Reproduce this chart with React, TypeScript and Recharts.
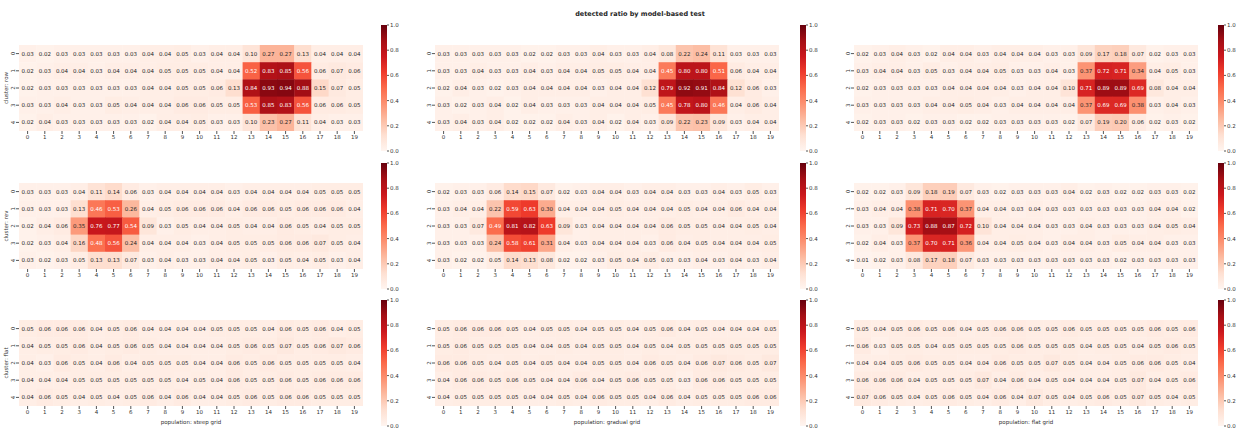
import React from 'react';
import {
  ScatterChart,
  Scatter,
  XAxis,
  YAxis,
  BarChart,
  Bar,
} from 'recharts';

// population (x) index and cluster (y) index
const COLS = Array.from({ length: 20 }, (_, i) => i);
const ROWS = [0, 1, 2, 3, 4];
const CB_TICKS = [0, 0.2, 0.4, 0.6, 0.8, 1.0];

const CLUSTER_LABELS = ['cluster: row', 'cluster: rev', 'cluster: flat'];
const POPULATION_LABELS = ['population: steep grid', 'population: gradual grid', 'population: flat grid'];

// cluster: row
const rowSteep = [
  [0.03, 0.02, 0.03, 0.03, 0.03, 0.03, 0.03, 0.04, 0.04, 0.05, 0.03, 0.04, 0.04, 0.10, 0.27, 0.27, 0.13, 0.04, 0.04, 0.04],
  [0.02, 0.03, 0.04, 0.04, 0.03, 0.04, 0.04, 0.04, 0.05, 0.05, 0.05, 0.04, 0.04, 0.52, 0.83, 0.85, 0.56, 0.06, 0.07, 0.06],
  [0.02, 0.03, 0.03, 0.03, 0.03, 0.03, 0.03, 0.04, 0.04, 0.05, 0.05, 0.06, 0.13, 0.84, 0.93, 0.94, 0.88, 0.15, 0.07, 0.05],
  [0.03, 0.03, 0.04, 0.03, 0.03, 0.05, 0.04, 0.04, 0.04, 0.06, 0.06, 0.05, 0.05, 0.53, 0.85, 0.83, 0.56, 0.06, 0.06, 0.05],
  [0.02, 0.04, 0.03, 0.03, 0.03, 0.03, 0.03, 0.02, 0.04, 0.04, 0.05, 0.03, 0.03, 0.10, 0.23, 0.27, 0.11, 0.04, 0.03, 0.03],
];
const rowGradual = [
  [0.03, 0.03, 0.03, 0.03, 0.03, 0.02, 0.02, 0.03, 0.03, 0.04, 0.03, 0.03, 0.04, 0.08, 0.22, 0.24, 0.11, 0.03, 0.03, 0.03],
  [0.03, 0.03, 0.04, 0.03, 0.03, 0.04, 0.03, 0.04, 0.04, 0.05, 0.05, 0.04, 0.04, 0.45, 0.80, 0.80, 0.51, 0.06, 0.04, 0.04],
  [0.02, 0.04, 0.03, 0.02, 0.03, 0.04, 0.04, 0.04, 0.04, 0.03, 0.04, 0.04, 0.12, 0.79, 0.92, 0.91, 0.84, 0.12, 0.06, 0.03],
  [0.03, 0.02, 0.03, 0.04, 0.02, 0.04, 0.03, 0.03, 0.03, 0.04, 0.04, 0.04, 0.05, 0.45, 0.78, 0.80, 0.46, 0.04, 0.06, 0.04],
  [0.03, 0.04, 0.03, 0.04, 0.02, 0.02, 0.02, 0.04, 0.03, 0.04, 0.02, 0.04, 0.03, 0.09, 0.22, 0.23, 0.09, 0.03, 0.04, 0.04],
];
const rowFlat = [
  [0.02, 0.03, 0.04, 0.03, 0.02, 0.04, 0.04, 0.03, 0.04, 0.04, 0.04, 0.03, 0.03, 0.09, 0.17, 0.18, 0.07, 0.02, 0.03, 0.03],
  [0.03, 0.04, 0.04, 0.03, 0.05, 0.03, 0.04, 0.04, 0.05, 0.03, 0.03, 0.04, 0.03, 0.37, 0.72, 0.71, 0.34, 0.04, 0.05, 0.03],
  [0.02, 0.03, 0.03, 0.03, 0.03, 0.04, 0.04, 0.04, 0.04, 0.03, 0.04, 0.04, 0.10, 0.71, 0.89, 0.89, 0.69, 0.08, 0.04, 0.04],
  [0.03, 0.03, 0.03, 0.03, 0.04, 0.04, 0.05, 0.04, 0.03, 0.04, 0.04, 0.04, 0.04, 0.37, 0.69, 0.69, 0.38, 0.03, 0.04, 0.03],
  [0.02, 0.03, 0.03, 0.02, 0.03, 0.03, 0.02, 0.02, 0.03, 0.03, 0.03, 0.03, 0.02, 0.07, 0.19, 0.20, 0.06, 0.02, 0.03, 0.02],
];

// cluster: rev
const revSteep = [
  [0.03, 0.03, 0.03, 0.04, 0.11, 0.14, 0.06, 0.03, 0.04, 0.04, 0.04, 0.04, 0.03, 0.04, 0.04, 0.04, 0.04, 0.05, 0.05, 0.05],
  [0.03, 0.03, 0.03, 0.13, 0.46, 0.53, 0.26, 0.04, 0.05, 0.06, 0.06, 0.06, 0.04, 0.06, 0.06, 0.05, 0.06, 0.06, 0.06, 0.04],
  [0.02, 0.04, 0.06, 0.35, 0.76, 0.77, 0.54, 0.09, 0.03, 0.05, 0.04, 0.04, 0.05, 0.04, 0.04, 0.06, 0.05, 0.04, 0.05, 0.05],
  [0.02, 0.03, 0.04, 0.16, 0.48, 0.56, 0.24, 0.04, 0.04, 0.04, 0.03, 0.04, 0.05, 0.05, 0.05, 0.06, 0.06, 0.07, 0.05, 0.04],
  [0.03, 0.02, 0.03, 0.05, 0.13, 0.13, 0.07, 0.03, 0.04, 0.03, 0.03, 0.04, 0.04, 0.05, 0.03, 0.05, 0.04, 0.05, 0.03, 0.04],
];
const revGradual = [
  [0.02, 0.03, 0.03, 0.06, 0.14, 0.15, 0.07, 0.02, 0.03, 0.04, 0.04, 0.03, 0.04, 0.04, 0.03, 0.03, 0.04, 0.03, 0.05, 0.03],
  [0.03, 0.04, 0.04, 0.22, 0.59, 0.63, 0.30, 0.04, 0.04, 0.04, 0.05, 0.04, 0.04, 0.04, 0.05, 0.04, 0.04, 0.06, 0.04, 0.04],
  [0.03, 0.03, 0.07, 0.49, 0.81, 0.82, 0.63, 0.09, 0.03, 0.04, 0.04, 0.04, 0.04, 0.06, 0.05, 0.05, 0.04, 0.04, 0.05, 0.04],
  [0.03, 0.03, 0.03, 0.24, 0.58, 0.61, 0.31, 0.04, 0.03, 0.04, 0.04, 0.04, 0.03, 0.06, 0.04, 0.05, 0.04, 0.04, 0.04, 0.05],
  [0.03, 0.02, 0.02, 0.05, 0.14, 0.13, 0.08, 0.02, 0.02, 0.03, 0.05, 0.04, 0.05, 0.03, 0.03, 0.04, 0.03, 0.04, 0.03, 0.04],
];
const revFlat = [
  [0.02, 0.02, 0.03, 0.09, 0.18, 0.19, 0.07, 0.03, 0.02, 0.03, 0.03, 0.03, 0.04, 0.02, 0.03, 0.02, 0.02, 0.03, 0.03, 0.02],
  [0.03, 0.04, 0.04, 0.38, 0.71, 0.70, 0.37, 0.04, 0.04, 0.03, 0.04, 0.03, 0.03, 0.03, 0.03, 0.03, 0.03, 0.04, 0.04, 0.02],
  [0.03, 0.03, 0.09, 0.73, 0.88, 0.87, 0.72, 0.10, 0.04, 0.04, 0.04, 0.03, 0.03, 0.04, 0.03, 0.03, 0.03, 0.04, 0.05, 0.04],
  [0.02, 0.04, 0.03, 0.37, 0.70, 0.71, 0.36, 0.04, 0.04, 0.05, 0.04, 0.03, 0.04, 0.04, 0.03, 0.05, 0.04, 0.04, 0.03, 0.03],
  [0.01, 0.02, 0.03, 0.08, 0.17, 0.18, 0.07, 0.03, 0.03, 0.03, 0.03, 0.03, 0.03, 0.03, 0.03, 0.02, 0.03, 0.03, 0.03, 0.03],
];

// cluster: flat
const flatSteep = [
  [0.05, 0.06, 0.06, 0.06, 0.04, 0.05, 0.06, 0.04, 0.04, 0.04, 0.04, 0.05, 0.05, 0.05, 0.04, 0.06, 0.05, 0.06, 0.04, 0.05],
  [0.04, 0.05, 0.05, 0.06, 0.04, 0.05, 0.06, 0.05, 0.04, 0.04, 0.04, 0.04, 0.05, 0.06, 0.05, 0.07, 0.05, 0.06, 0.07, 0.06],
  [0.04, 0.03, 0.06, 0.05, 0.04, 0.06, 0.04, 0.05, 0.05, 0.05, 0.04, 0.04, 0.06, 0.05, 0.06, 0.05, 0.05, 0.05, 0.05, 0.04],
  [0.04, 0.04, 0.04, 0.05, 0.05, 0.05, 0.05, 0.05, 0.05, 0.04, 0.05, 0.04, 0.06, 0.05, 0.05, 0.06, 0.05, 0.06, 0.06, 0.06],
  [0.04, 0.06, 0.05, 0.04, 0.05, 0.04, 0.05, 0.06, 0.04, 0.06, 0.04, 0.04, 0.05, 0.06, 0.05, 0.06, 0.06, 0.05, 0.05, 0.05],
];
const flatGradual = [
  [0.05, 0.06, 0.06, 0.06, 0.05, 0.04, 0.05, 0.05, 0.04, 0.05, 0.05, 0.04, 0.05, 0.06, 0.04, 0.05, 0.04, 0.04, 0.04, 0.05],
  [0.05, 0.06, 0.05, 0.05, 0.05, 0.04, 0.04, 0.05, 0.04, 0.05, 0.05, 0.04, 0.05, 0.04, 0.05, 0.05, 0.05, 0.05, 0.05, 0.05],
  [0.06, 0.06, 0.05, 0.04, 0.05, 0.04, 0.05, 0.04, 0.04, 0.05, 0.05, 0.04, 0.06, 0.05, 0.04, 0.06, 0.07, 0.06, 0.05, 0.07],
  [0.04, 0.06, 0.06, 0.05, 0.06, 0.05, 0.04, 0.04, 0.06, 0.04, 0.05, 0.06, 0.05, 0.05, 0.03, 0.06, 0.06, 0.05, 0.05, 0.05],
  [0.04, 0.05, 0.05, 0.05, 0.05, 0.04, 0.04, 0.05, 0.04, 0.06, 0.05, 0.05, 0.04, 0.06, 0.04, 0.05, 0.05, 0.05, 0.06, 0.06],
];
const flatFlat = [
  [0.05, 0.04, 0.05, 0.06, 0.05, 0.06, 0.04, 0.05, 0.06, 0.06, 0.05, 0.05, 0.06, 0.05, 0.05, 0.05, 0.05, 0.06, 0.05, 0.06],
  [0.06, 0.03, 0.05, 0.05, 0.04, 0.05, 0.05, 0.05, 0.05, 0.06, 0.05, 0.05, 0.05, 0.04, 0.05, 0.05, 0.04, 0.05, 0.06, 0.05],
  [0.04, 0.04, 0.05, 0.06, 0.05, 0.05, 0.04, 0.04, 0.06, 0.05, 0.05, 0.07, 0.05, 0.04, 0.04, 0.05, 0.06, 0.06, 0.05, 0.04],
  [0.06, 0.06, 0.06, 0.04, 0.05, 0.05, 0.05, 0.07, 0.04, 0.06, 0.04, 0.05, 0.04, 0.04, 0.04, 0.05, 0.07, 0.04, 0.05, 0.06],
  [0.07, 0.06, 0.05, 0.04, 0.05, 0.06, 0.05, 0.04, 0.06, 0.04, 0.07, 0.05, 0.04, 0.05, 0.06, 0.05, 0.07, 0.05, 0.04, 0.05],
];

const GRID = [
  [rowSteep, rowGradual, rowFlat],
  [revSteep, revGradual, revFlat],
  [flatSteep, flatGradual, flatFlat],
];

// matplotlib "Reds"
const REDS = ['#fff5f0', '#fee0d2', '#fcbba1', '#fc9272', '#fb6a4a', '#ef3b2c', '#cb181d', '#a50f15', '#67000d'];

const hexToRgb = (h: string) => [1, 3, 5].map((i) => parseInt(h.slice(i, i + 2), 16));

const redsRgb = (v: number) => {
  const t = Math.max(0, Math.min(1, v)) * (REDS.length - 1);
  const i = Math.min(Math.floor(t), REDS.length - 2);
  const f = t - i;
  const a = hexToRgb(REDS[i]);
  const b = hexToRgb(REDS[i + 1]);
  return a.map((c, k) => Math.round(c + (b[k] - c) * f));
};

const luminance = (rgb: number[]) => {
  const lin = rgb.map((c) => {
    const s = c / 255;
    return s <= 0.03928 ? s / 12.92 : Math.pow((s + 0.055) / 1.055, 2.4);
  });
  return 0.2126 * lin[0] + 0.7152 * lin[1] + 0.0722 * lin[2];
};

// layout
const PW = 344;
const PH = 86;
const YW = 18;
const PANEL_X = [18.5, 435, 854];
const PANEL_Y = [45, 183, 320];
const CB_X = [381, 800, 1218];
const CB_Y = [25, 163, 300];
const CB_W = 6;
const CB_H = 126;
const FONT = "'DejaVu Sans', sans-serif";
const TEXT = '#333333';

const renderCell = (props: any) => {
  const { cx, cy, payload } = props;
  if (cx == null || cy == null) return <g />;
  const w = PW / 20;
  const h = PH / 5;
  const rgb = redsRgb(payload.v);
  const textFill = luminance(rgb) > 0.408 ? '#262626' : '#ffffff';
  return (
    <g>
      <rect x={cx - w / 2} y={cy - h / 2} width={w + 0.4} height={h + 0.4} fill={`rgb(${rgb.join(',')})`} />
      <text x={cx} y={cy} dy="0.35em" textAnchor="middle" fontSize={5.5} fill={textFill} fontFamily={FONT}>
        {payload.v.toFixed(2)}
      </text>
    </g>
  );
};

const YTick = (props: any) => {
  const { x, y, payload } = props;
  return (
    <text
      x={x}
      y={y}
      transform={`rotate(-90, ${x}, ${y})`}
      textAnchor="middle"
      fontSize={5.5}
      fill={TEXT}
      fontFamily={FONT}
    >
      {payload.value}
    </text>
  );
};

function Heatmap({ values, row, col }: { values: number[][]; row: number; col: number }) {
  const data = values.flatMap((r, ri) => r.map((v, ci) => ({ x: ci, y: ri, v })));
  const bottom = row === 2;
  const XH = bottom ? 22 : 12;
  const x0 = PANEL_X[col];
  const y0 = PANEL_Y[row];

  return (
    <div style={{ position: 'absolute', left: x0 - YW, top: y0 }}>
      <ScatterChart width={YW + PW} height={PH + XH} margin={{ top: 0, right: 0, bottom: 0, left: 0 }}>
        <XAxis
          type="number"
          dataKey="x"
          domain={[-0.5, 19.5]}
          ticks={COLS}
          interval={0}
          allowDataOverflow
          axisLine={false}
          tickLine={{ stroke: '#555' }}
          tickSize={3}
          tickMargin={1}
          height={XH}
          tick={{ fontSize: 5.5, fill: TEXT, fontFamily: FONT }}
          label={
            bottom
              ? (p: any) => {
                  const vb = p.viewBox;
                  return (
                    <text
                      x={vb.x + vb.width / 2}
                      y={vb.y + 18}
                      textAnchor="middle"
                      fontSize={5.5}
                      fill={TEXT}
                      fontFamily={FONT}
                    >
                      {POPULATION_LABELS[col]}
                    </text>
                  );
                }
              : undefined
          }
        />
        <YAxis
          type="number"
          dataKey="y"
          domain={[-0.5, 4.5]}
          reversed
          ticks={ROWS}
          interval={0}
          allowDataOverflow
          axisLine={false}
          tickLine={{ stroke: '#555' }}
          tickSize={3}
          tickMargin={1}
          width={YW}
          tick={<YTick />}
          label={
            col === 0
              ? (p: any) => {
                  const vb = p.viewBox;
                  const lx = vb.x + 6.5;
                  const ly = vb.y + vb.height / 2;
                  return (
                    <text
                      x={lx}
                      y={ly}
                      transform={`rotate(-90, ${lx}, ${ly})`}
                      textAnchor="middle"
                      fontSize={5.5}
                      fill={TEXT}
                      fontFamily={FONT}
                    >
                      {CLUSTER_LABELS[row]}
                    </text>
                  );
                }
              : undefined
          }
        />
        <Scatter data={data} shape={renderCell} isAnimationActive={false} />
      </ScatterChart>
    </div>
  );
}

// single bar spanning the full colour range
const CB_DATA = [{ name: 'scale', v: 1 }];

function Colorbar({ row, col }: { row: number; col: number }) {
  const pad = 5;
  return (
    <div style={{ position: 'absolute', left: CB_X[col], top: CB_Y[row] - pad }}>
      <BarChart
        width={CB_W + 24}
        height={CB_H + pad * 2}
        data={CB_DATA}
        barCategoryGap={0}
        margin={{ top: pad, right: 0, bottom: pad, left: 0 }}
      >
        <XAxis type="category" dataKey="name" hide />
        <YAxis
          orientation="right"
          type="number"
          domain={[0, 1]}
          ticks={CB_TICKS}
          interval={0}
          width={24}
          axisLine={false}
          tickLine={{ stroke: '#555' }}
          tickSize={2}
          tickMargin={1}
          tickFormatter={(v: number) => v.toFixed(1)}
          tick={{ fontSize: 5.5, fill: TEXT, fontFamily: FONT }}
        />
        <Bar dataKey="v" fill="url(#redsBar)" isAnimationActive={false} />
      </BarChart>
    </div>
  );
}

export default function App() {
  return (
    <div
      style={{
        position: 'absolute',
        left: 0,
        top: 0,
        width: 1247,
        height: 429,
        background: '#ffffff',
        fontFamily: FONT,
        overflow: 'hidden',
      }}
    >
      <svg width={1} height={1} style={{ position: 'absolute', left: 0, top: 0 }}>
        <defs>
          <linearGradient id="redsBar" x1="0" y1="1" x2="0" y2="0">
            {REDS.map((c, i) => (
              <stop key={c} offset={i / (REDS.length - 1)} stopColor={c} />
            ))}
          </linearGradient>
        </defs>
      </svg>

      <div
        style={{
          position: 'absolute',
          left: 640,
          top: 10,
          transform: 'translateX(-50%)',
          fontSize: 6.5,
          fontWeight: 'bold',
          color: '#262626',
          whiteSpace: 'nowrap',
          lineHeight: '8px',
        }}
      >
        detected ratio by model-based test
      </div>

      {GRID.map((rowPanels, r) =>
        rowPanels.map((values, c) => (
          <React.Fragment key={`${r}-${c}`}>
            <Heatmap values={values} row={r} col={c} />
            <Colorbar row={r} col={c} />
          </React.Fragment>
        ))
      )}
    </div>
  );
}
